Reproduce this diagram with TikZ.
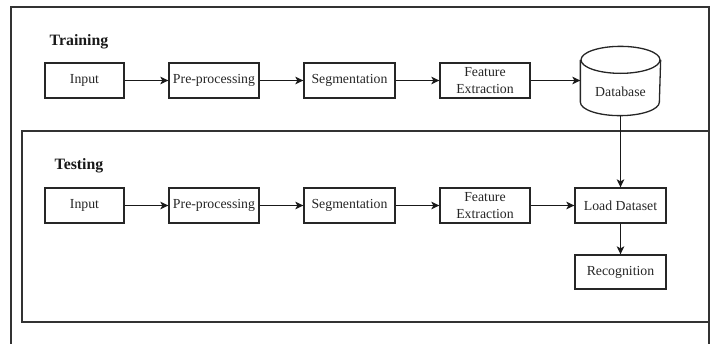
\documentclass[tikz,border=0pt]{standalone}
\usepackage{fontspec}
\setmainfont{Liberation Serif}
\usetikzlibrary{arrows.meta}
\begin{document}
\begin{tikzpicture}[x=1pt,y=-1pt,
  line width=1.3pt,
  stepbox/.style={draw=black!85, line width=1.3pt, minimum width=90pt, minimum height=35pt, inner sep=0pt, align=center, font=\fontsize{13.8}{16.5}\selectfont, text=black!85},
  title/.style={font=\fontsize{15.8}{18}\selectfont\bfseries, text=black!90, inner sep=0pt},
  arr/.style={draw=black!90, line width=1.3pt, -{Stealth[length=8pt,width=7.5pt,inset=2pt]}},
  frame/.style={draw=black!80, line width=1.3pt}]
\useasboundingbox (0,0) rectangle (710,343);
\begin{scope}
\clip (0,0) rectangle (710,343);
\draw[frame] (11,7) rectangle (709,360);
\end{scope}
\draw[frame] (22,131) rectangle (709,322);
% Training
\node[title] (ttrain) at (79,42) {Training};
\node[stepbox, minimum width=79pt] (in1) at (84.5,80.5) {Input};
\node[stepbox] (pp1) at (214,80.5) {Pre-processing};
\node[stepbox, minimum width=91pt] (sg1) at (349.5,80.5) {Segmentation};
\node[stepbox] (fe1) at (485,80.5) {Feature\\Extraction};
\node[minimum width=79pt, minimum height=68pt, inner sep=0pt] (db) at (620.5,81) {};
\draw[draw=black!85, line width=1.3pt]
  (db.north west) ++(0,13.5) coordinate (dtl)
  (db.north east) ++(0,13.5) coordinate (dtr)
  (db.south west) ++(0,-13.5) coordinate (dbl)
  (db.south east) ++(0,-13.5) coordinate (dbr);
\draw[draw=black!85, line width=1.3pt]
  ([yshift=-13.5pt]db.north) ellipse [x radius=39.5pt, y radius=13.5pt];
\draw[draw=black!85, line width=1.3pt]
  (dtl) -- (dbl) arc[start angle=180, end angle=360, x radius=39.5pt, y radius=13.5pt] -- (dtr);
\node[font=\fontsize{13.8}{16}\selectfont, text=black!85] (dbt) at (620.5,92) {Database};
\draw[arr] (in1) -- (pp1);
\draw[arr] (pp1) -- (sg1);
\draw[arr] (sg1) -- (fe1);
\draw[arr] (fe1.east) -- (fe1.east -| db.west);
% Testing
\node[title] (ttest) at (79,166) {Testing};
\node[stepbox, minimum width=79pt] (in2) at (84.5,205.5) {Input};
\node[stepbox] (pp2) at (214,205.5) {Pre-processing};
\node[stepbox, minimum width=91pt] (sg2) at (349.5,205.5) {Segmentation};
\node[stepbox] (fe2) at (485,205.5) {Feature\\Extraction};
\node[stepbox, minimum width=91pt] (ld) at (620.5,205.5) {Load Dataset};
\node[stepbox, minimum width=91pt, minimum height=34pt] (rec) at (620.5,272) {Recognition};
\draw[arr] (in2) -- (pp2);
\draw[arr] (pp2) -- (sg2);
\draw[arr] (sg2) -- (fe2);
\draw[arr] (fe2) -- (ld);
\draw[arr] (db.south) -- (ld.north);
\draw[arr] (ld) -- (rec);
\end{tikzpicture}
\end{document}
